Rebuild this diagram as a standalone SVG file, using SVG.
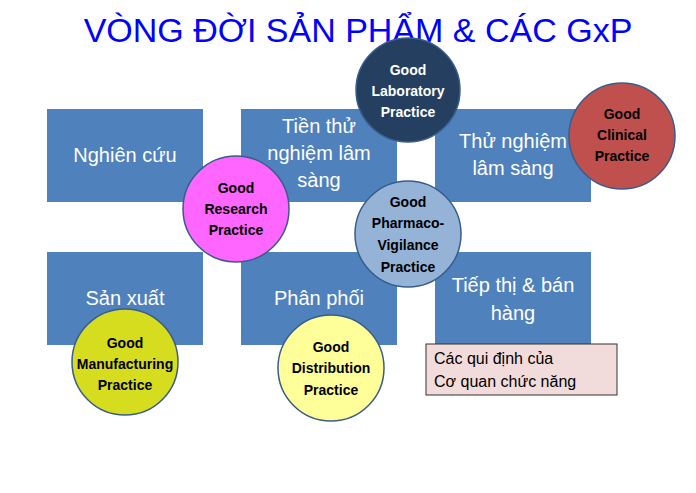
<svg xmlns="http://www.w3.org/2000/svg" width="696" height="493" viewBox="0 0 696 493">
<style>
.box{fill:#4f81bd}
.bt{font-family:"Liberation Sans",Arial,sans-serif;font-size:20px;fill:#fff;text-anchor:middle}
.ct{font-family:"Liberation Sans",Arial,sans-serif;font-size:14px;font-weight:bold;text-anchor:middle}
.c{stroke:#385d8a;stroke-width:1.5}
</style>
<rect width="696" height="493" fill="#fff"/>
<text x="358" y="42" font-family="'Liberation Sans',Arial,sans-serif" font-size="34" fill="#0000ff" text-anchor="middle">VÒNG ĐỜI SẢN PHẨM &amp; CÁC GxP</text>
<g id="n1"><rect class="box" x="47" y="109" width="156" height="93"/><text class="bt" x="125" y="162">Nghiên cứu</text></g>
<g id="n2"><rect class="box" x="241" y="109" width="156" height="93"/><text class="bt" x="319" y="133">Tiền thử</text><text class="bt" x="319" y="160">nghiệm lâm</text><text class="bt" x="319" y="187">sàng</text></g>
<g id="n3"><rect class="box" x="435" y="109" width="156" height="93"/><text class="bt" x="513" y="148">Thử nghiệm</text><text class="bt" x="513" y="175">lâm sàng</text></g>
<g id="n4"><rect class="box" x="47" y="252" width="156" height="93"/><text class="bt" x="125" y="305">Sản xuất</text></g>
<g id="n5"><rect class="box" x="241" y="252" width="156" height="93"/><text class="bt" x="319" y="305">Phân phối</text></g>
<g id="n6"><rect class="box" x="435" y="252" width="156" height="93"/><text class="bt" x="513" y="292">Tiếp thị &amp; bán</text><text class="bt" x="513" y="320">hàng</text></g>
<g id="reg"><rect x="426" y="344" width="191" height="51" fill="#f2dcdb" stroke="#333" stroke-width="1"/><text x="434" y="364" font-family="'Liberation Sans',Arial,sans-serif" font-size="16" fill="#000">Các qui định của</text><text x="434" y="387" font-family="'Liberation Sans',Arial,sans-serif" font-size="16" fill="#000">Cơ quan chức năng</text></g>
<g id="glp"><circle class="c" cx="408" cy="90" r="52" fill="#243f60"/><text class="ct" fill="#fff" x="408" y="75">Good</text><text class="ct" fill="#fff" x="408" y="96">Laboratory</text><text class="ct" fill="#fff" x="408" y="117">Practice</text></g>
<g id="gcp"><circle class="c" cx="622" cy="136" r="53" fill="#c0504d"/><text class="ct" x="622" y="119">Good</text><text class="ct" x="622" y="140">Clinical</text><text class="ct" x="622" y="161">Practice</text></g>
<g id="grp"><circle class="c" cx="236" cy="209" r="53" fill="#ff66ff"/><text class="ct" x="236" y="193">Good</text><text class="ct" x="236" y="214">Research</text><text class="ct" x="236" y="235">Practice</text></g>
<g id="gvp"><circle class="c" cx="408" cy="234" r="53" fill="#95b3d7"/><text class="ct" x="408" y="207">Good</text><text class="ct" x="408" y="228">Pharmaco-</text><text class="ct" x="408" y="250">Vigilance</text><text class="ct" x="408" y="272">Practice</text></g>
<g id="gmp"><circle class="c" cx="125" cy="362" r="53" fill="#d6dc1e"/><text class="ct" x="125" y="348">Good</text><text class="ct" x="125" y="369">Manufacturing</text><text class="ct" x="125" y="390">Practice</text></g>
<g id="gdp"><circle class="c" cx="331" cy="368" r="53" fill="#ffff99"/><text class="ct" x="331" y="352">Good</text><text class="ct" x="331" y="373">Distribution</text><text class="ct" x="331" y="395">Practice</text></g>
<g id="connectors"></g>
</svg>
